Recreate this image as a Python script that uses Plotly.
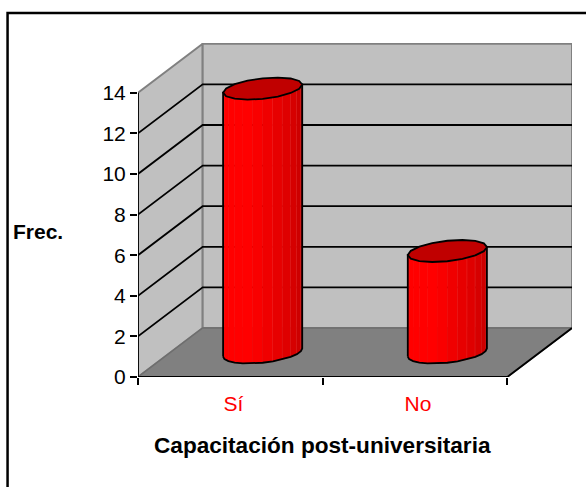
import math
import plotly.graph_objects as go

categories = ["Sí", "No"]
frequencies = [13, 5]
y_ticks = [0, 2, 4, 6, 8, 10, 12, 14]

# Pixel calibration of the oblique 3D box
W, H = 586, 487
PX_LEFT, PX_RIGHT = 137.5, 571.7
PX_TOP, PX_BOTTOM = 43, 377
PX_PER_CAT = 184.75
PX_PER_UNIT = 20.3
DEPTH_X = (PX_RIGHT - PX_LEFT - 2 * PX_PER_CAT) / PX_PER_CAT   # category units
DEPTH_Y = 49 / PX_PER_UNIT                                     # value units
Y_MAX = max(y_ticks)
N_CAT = len(categories)

RED_BRIGHT = (255, 0, 0)
RED_DARK = (192, 0, 0)
WALL = "#C0C0C0"
FLOOR = "#808080"
EDGE = "#808080"

fig = go.Figure()


def poly(xs, ys, fill=None, line=None, width=1.0):
    fig.add_trace(go.Scatter(
        x=xs, y=ys, mode="lines",
        fill="toself" if fill else "none",
        fillcolor=fill,
        line=dict(color=line or "rgba(0,0,0,0)", width=width if line else 0),
        hoverinfo="skip", showlegend=False, cliponaxis=False,
    ))


# Walls and floor
poly([0, DEPTH_X, DEPTH_X, 0, 0], [0, DEPTH_Y, Y_MAX + DEPTH_Y, Y_MAX, 0], WALL, EDGE, 2)
poly([DEPTH_X, N_CAT + DEPTH_X, N_CAT + DEPTH_X, DEPTH_X, DEPTH_X],
     [DEPTH_Y, DEPTH_Y, Y_MAX + DEPTH_Y, Y_MAX + DEPTH_Y, DEPTH_Y], WALL, EDGE, 2)
poly([0, N_CAT, N_CAT + DEPTH_X, DEPTH_X, 0], [0, 0, DEPTH_Y, DEPTH_Y, 0], FLOOR, "#6e6e6e", 1.5)

# Gridlines wrapping left wall and back wall
for v in y_ticks[1:-1]:
    poly([0, DEPTH_X, N_CAT + DEPTH_X], [v, v + DEPTH_Y, v + DEPTH_Y], None, "black", 1.8)

# Axes lines
poly([0, 0], [0, Y_MAX], None, "black", 1.8)
poly([0, N_CAT, N_CAT + DEPTH_X], [0, 0, DEPTH_Y], None, "black", 1.8)

# Cylinders
RU = 36.8 / PX_PER_CAT            # radius along the category direction
K = 0.45                          # share of the depth taken by the cylinder
HX = DEPTH_X * K / 2
HY = DEPTH_Y * K / 2
T0 = math.atan2(HX * PX_PER_CAT, RU * PX_PER_CAT)
N_FACETS = 12


def ellipse(cx, cy, t):
    return (cx + RU * math.cos(t) + HX * math.sin(t), cy + HY * math.sin(t))


def shade(phi_deg):
    f = min(phi_deg / 108.0, 1.0)
    r = RED_DARK[0] + (RED_BRIGHT[0] - RED_DARK[0]) * f
    return f"rgb({round(r)},0,0)"


for i, val in enumerate(frequencies):
    cx = i + 0.5 + DEPTH_X / 2
    cy0 = DEPTH_Y / 2
    ts = [T0 - math.pi + math.pi * j / N_FACETS for j in range(N_FACETS + 1)]
    for j in range(N_FACETS):
        a = ellipse(cx, cy0, ts[j])
        b = ellipse(cx, cy0, ts[j + 1])
        phi = (T0 - (ts[j] + ts[j + 1]) / 2) * 180 / math.pi
        poly([a[0], b[0], b[0], a[0], a[0]],
             [a[1], b[1], b[1] + val, a[1] + val, a[1]],
             shade(phi), shade(phi), 0.5)
        if 0 < (T0 - ts[j + 1]) * 180 / math.pi < 80:
            poly([b[0], b[0]], [b[1], b[1] + val], None, "rgba(255,110,110,0.55)", 0.8)
    # outline of the side
    front = [ellipse(cx, cy0, t) for t in ts]
    xs = [p[0] for p in front] + [front[-1][0], front[0][0]]
    ys = [p[1] for p in front] + [front[-1][1] + val, front[0][1] + val]
    poly(xs + [xs[0]], ys + [ys[0]], None, "black", 1.8)
    # top cap
    top = [ellipse(cx, cy0 + val, 2 * math.pi * j / 16 + T0) for j in range(17)]
    poly([p[0] for p in top], [p[1] for p in top], "#C00000", "black", 1.8)

tick_x = [k + 0.5 for k in range(N_CAT)]

fig.update_layout(
    width=W, height=H, autosize=False,
    margin=dict(l=PX_LEFT, r=W - PX_RIGHT, t=PX_TOP, b=H - PX_BOTTOM, pad=0),
    paper_bgcolor="white", plot_bgcolor="rgba(0,0,0,0)",
    font=dict(family="Liberation Sans, Arial, sans-serif", color="black", size=21),
    showlegend=False,
    xaxis=dict(
        range=[0, (PX_RIGHT - PX_LEFT) / PX_PER_CAT],
        tickmode="array", tickvals=tick_x, ticktext=categories,
        ticks="outside", ticklen=8, tickcolor="rgba(0,0,0,0)",
        ticklabelshift=3,
        tickfont=dict(color="#FF0000", size=21),
        showgrid=False, zeroline=False, showline=False,
        minor=dict(tickmode="array", tickvals=list(range(N_CAT + 1)), ticks="outside",
                   ticklen=7, tickwidth=1.5, tickcolor="black", showgrid=False),
    ),
    yaxis=dict(
        range=[0, (PX_BOTTOM - PX_TOP) / PX_PER_UNIT],
        tickmode="array", tickvals=y_ticks, ticktext=[str(v) for v in y_ticks],
        ticks="outside", ticklen=7, tickwidth=1.5, tickcolor="black",
        tickfont=dict(color="black", size=21),
        showgrid=False, zeroline=False, showline=False,
    ),
    annotations=[
        dict(text="<b>Frec.</b>", xref="paper", yref="paper", x=(10 - PX_LEFT) / (PX_RIGHT - PX_LEFT),
             y=(PX_BOTTOM - 231) / (PX_BOTTOM - PX_TOP), xanchor="left", yanchor="middle",
             showarrow=False, font=dict(size=21)),
        dict(text="<b>Capacitación post-universitaria</b>", xref="x", yref="paper", x=N_CAT / 2,
             y=(PX_BOTTOM - 445) / (PX_BOTTOM - PX_TOP), xanchor="center", yanchor="middle",
             showarrow=False, font=dict(size=22.6)),
    ],
    shapes=[dict(type="rect", xref="paper", yref="paper", layer="below",
                 x0=(7 - PX_LEFT) / (PX_RIGHT - PX_LEFT), x1=(600 - PX_LEFT) / (PX_RIGHT - PX_LEFT),
                 y0=(PX_BOTTOM - 500) / (PX_BOTTOM - PX_TOP), y1=(PX_BOTTOM - 13) / (PX_BOTTOM - PX_TOP),
                 line=dict(color="black", width=2.5), fillcolor="white")],
)

fig.write_html("out.html", config={"displayModeBar": False},
               post_script="document.body.style.margin='0';document.body.style.overflow='hidden';")
